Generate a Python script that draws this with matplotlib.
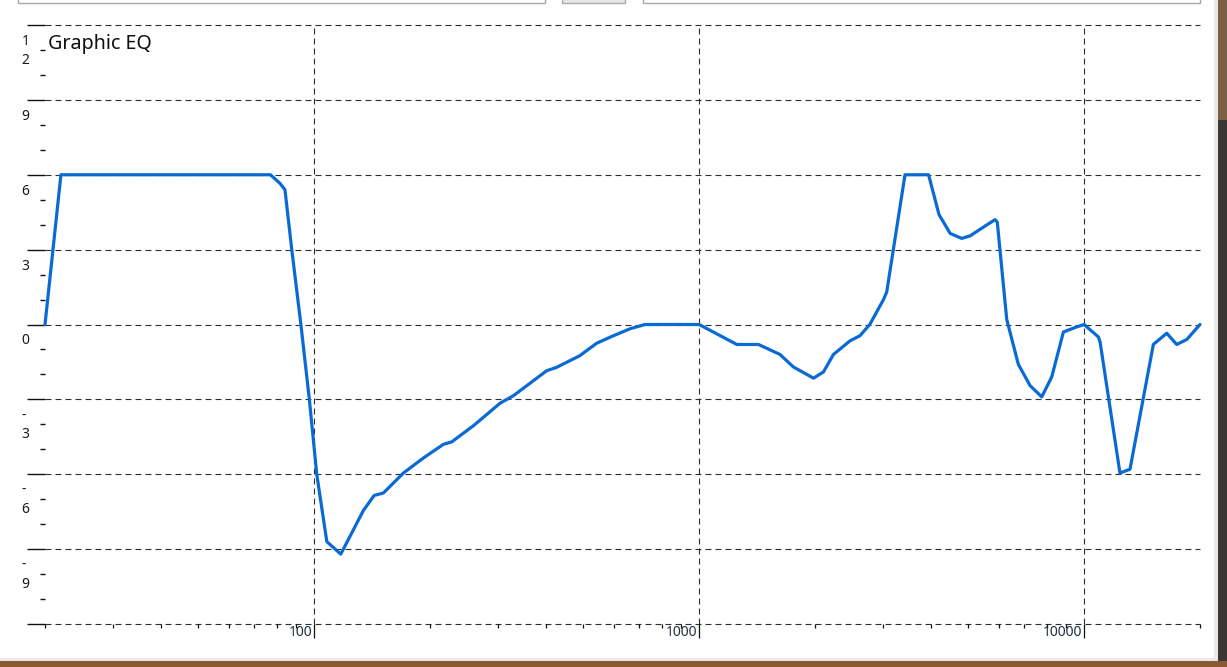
import matplotlib
matplotlib.use("Agg")
import matplotlib.pyplot as plt
from matplotlib.ticker import FixedLocator, NullFormatter
from matplotlib.transforms import offset_copy
from matplotlib.patches import Rectangle

# ---------------- data ----------------
freqs_hz = [20, 22, 77, 81.6, 84, 87.5, 92.4, 97.2, 101.6, 107.9, 117.3, 134.3,
            143.2, 151.4, 170.6, 192.2, 216.7, 227.9, 259.6, 304.3, 329.6, 402,
            426, 490, 542, 599, 662, 724, 1000, 1253, 1426, 1622, 1757, 1982,
            2104, 2233, 2468, 2617, 2775, 3013, 3071, 3426, 3945, 4200,
            4488, 4809, 5055, 5474, 5871, 5950, 6296, 6749, 7240, 7762, 8240,
            8836, 9477, 10000, 10893, 11003, 12391, 13158, 15130, 16395, 17400,
            18485, 20000]
gains_db = [0, 6, 6, 5.65, 5.4, 3, 0, -3, -6, -8.7, -9.2, -7.45,
            -6.85, -6.75, -5.95, -5.35, -4.8, -4.7, -4.05, -3.15, -2.85, -1.85,
            -1.72, -1.25, -0.75, -0.45, -0.17, 0, 0, -0.8, -0.8, -1.2, -1.7, -2.15,
            -1.9, -1.2, -0.65, -0.45, 0, 1.0, 1.3, 6, 6, 4.4,
            3.65, 3.45, 3.55, 3.9, 4.2, 4.1, 0.2, -1.6, -2.45, -2.9, -2.1,
            -0.3, -0.12, 0, -0.5, -0.7, -5.95, -5.8, -0.8, -0.35, -0.8,
            -0.6, 0]

y_major = [-12, -9, -6, -3, 0, 3, 6, 9, 12]
y_labels = ["", "-9", "-6", "-3", "0", "3", "6", "9", "12"]
y_minor = [v for v in range(-12, 13) if v % 3 != 0]
x_major = [100, 1000, 10000]
x_labels = ["100", "1000", "10000"]
x_minor = [m * 10 ** e for e in (1, 2, 3) for m in range(2, 10)] + [20000]
title_text = "Graphic EQ"

# ---------------- figure ----------------
plt.rcParams['lines.scale_dashes'] = False
W, H = 1227, 667
DPI = 100
fig = plt.figure(figsize=(W / DPI, H / DPI), dpi=DPI, facecolor="white")

def px_rect(x0, y0, x1, y1, **kw):
    r = Rectangle((x0 / W, 1 - y1 / H), (x1 - x0) / W, (y1 - y0) / H,
                  transform=fig.transFigure, **kw)
    fig.add_artist(r)

# window chrome / surroundings
px_rect(18, -5, 545, 3, facecolor="white", edgecolor="#a8a8a8", lw=1)
px_rect(562, -5, 625, 3, facecolor="#e6e6e6", edgecolor="#adadad", lw=1)
px_rect(643, -5, 1200, 3, facecolor="white", edgecolor="#a8a8a8", lw=1)
px_rect(1214, 0, 1218, 667, facecolor="#e8e8e8", edgecolor="none")
px_rect(1218, 0, 1227, 120, facecolor="#7d5f45", edgecolor="none")
px_rect(1218, 120, 1227, 667, facecolor="#3a3633", edgecolor="none")
px_rect(0, 658, 1218, 661, facecolor="#e8e8e8", edgecolor="none")
px_rect(0, 661, 1227, 667, facecolor="#8a5a32", edgecolor="none")

ax = fig.add_axes([45 / W, 1 - 624 / H, (1200 - 45) / W, (624 - 25) / H])
ax.set_facecolor("none")
ax.set_xscale("log")
ax.set_xlim(20, 20000)
ax.set_ylim(-12, 12)
for s in ax.spines.values():
    s.set_visible(False)

grid_kw = dict(color="#2e2e2e", lw=0.8, linestyle=(0, (4.3, 2.9)), clip_on=False, zorder=1)
for v in y_major:
    ax.axhline(v, **grid_kw)
for v in x_major:
    ax.axvline(v, **grid_kw)

ax.xaxis.set_major_locator(FixedLocator(x_major))
ax.xaxis.set_minor_locator(FixedLocator(x_minor))
ax.yaxis.set_major_locator(FixedLocator(y_major))
ax.yaxis.set_minor_locator(FixedLocator(y_minor))
ax.xaxis.set_major_formatter(NullFormatter())
ax.xaxis.set_minor_formatter(NullFormatter())
ax.yaxis.set_major_formatter(NullFormatter())
ax.yaxis.set_minor_formatter(NullFormatter())
ax.tick_params(axis="y", which="major", direction="out", length=13, width=1.0, color="#111111")
ax.tick_params(axis="y", which="minor", direction="out", length=3.4, width=1.0, color="#111111", pad=1)
ax.tick_params(axis="x", which="major", direction="out", length=10, width=0.9, color="#111111")
ax.tick_params(axis="x", which="minor", direction="out", length=2.9, width=0.9, color="#111111")

ax.plot(freqs_hz, gains_db, color="#0a6ad4", lw=2.3, solid_joinstyle="round",
        solid_capstyle="round", clip_on=False, zorder=3)

font = ["Noto Sans", "DejaVu Sans"]
# y labels (wrapped one character per line, as in the reference)
ytrans = ax.get_yaxis_transform()
for v, lab in zip(y_major, y_labels):
    for i, ch in enumerate(lab):
        tr = offset_copy(ytrans, fig=fig, x=-23.5, y=-(20 + 18.5 * i), units="dots")
        ax.text(0, v, ch, transform=tr, ha="left", va="baseline",
                fontsize=10, family=font, color="#1a1a1a", clip_on=False)

# x labels
xtrans = ax.get_xaxis_transform()
for v, lab in zip(x_major, x_labels):
    tr = offset_copy(xtrans, fig=fig, x=-1.5, y=-12, units="dots")
    ax.text(v, 0, lab, transform=tr, ha="right", va="baseline",
            fontsize=10, family=font, color="#22303e", clip_on=False)

fig.text(48 / W, 1 - 49.5 / H, title_text, ha="left", va="baseline",
         fontsize=14.2, family=font, color="#111111")

fig.savefig("out.png", dpi=DPI, facecolor="white")
